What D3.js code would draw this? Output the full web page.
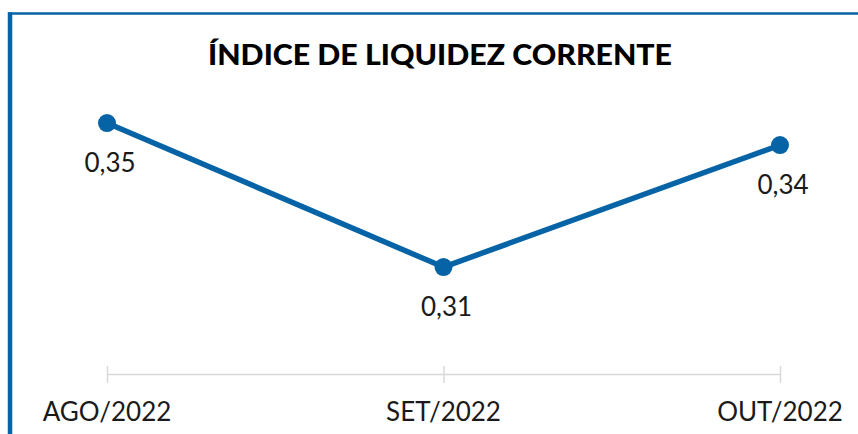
<!DOCTYPE html>
<html>
<head>
<meta charset="utf-8">
<script src="https://cdn.jsdelivr.net/npm/d3@7"></script>
<style>
  html, body { margin: 0; padding: 0; background: #ffffff; }
  svg { display: block; }
</style>
</head>
<body>
<svg id="chart" width="858" height="434"></svg>
<script>
const title = "ÍNDICE DE LIQUIDEZ CORRENTE";
const categories = ["AGO/2022", "SET/2022", "OUT/2022"];
const values = [0.3497, 0.3097, 0.3436];
const yDomain = [0.28, 0.36];

const W = 858, H = 434;
const blue = "#0664a6";
const svg = d3.select("#chart");

svg.append("rect").attr("width", W).attr("height", H).attr("fill", "#fff");

// frame (top and left borders)
svg.append("line").attr("x1", 8).attr("x2", W).attr("y1", 13.5).attr("y2", 13.5)
  .attr("stroke", blue).attr("stroke-width", 2.5);
svg.append("line").attr("x1", 10).attr("x2", 10).attr("y1", 12.3).attr("y2", H)
  .attr("stroke", blue).attr("stroke-width", 4.5);

const x = d3.scalePoint().domain(categories).range([107, 780]);
const y = d3.scaleLinear().domain(yDomain).range([374, 86]);

// title
svg.append("text")
  .attr("x", 440).attr("y", 65)
  .attr("text-anchor", "middle")
  .attr("font-family", "Lato, 'Open Sans', sans-serif")
  .attr("font-weight", 900)
  .attr("font-size", 29)
  .attr("fill", "#000")
  .attr("textLength", 464)
  .attr("lengthAdjust", "spacingAndGlyphs")
  .text(title);

// x axis
const axis = d3.axisBottom(x).tickSizeInner(9).tickSizeOuter(0).tickFormat("");
const gAxis = svg.append("g").attr("transform", `translate(0,${y(yDomain[0])})`).call(axis);
gAxis.select(".domain").attr("stroke", "#d9d9d9").attr("stroke-width", 1.5);
gAxis.selectAll(".tick line").attr("stroke", "#d9d9d9").attr("stroke-width", 1.5).attr("y1", -8).attr("y2", 9);
gAxis.selectAll(".tick text").remove();

// category labels
svg.append("g").selectAll("text").data(categories).join("text")
  .attr("x", d => x(d)).attr("y", 421)
  .attr("text-anchor", "middle")
  .attr("font-family", "Lato, 'Open Sans', sans-serif")
  .attr("font-size", 26)
  .attr("fill", "#1a1a1a")
  .text(d => d);

// line
const data = categories.map((c, i) => ({ c, v: values[i] }));
svg.append("path").datum(data)
  .attr("fill", "none")
  .attr("stroke", blue)
  .attr("stroke-width", 5.5)
  .attr("stroke-linejoin", "round")
  .attr("d", d3.line().x(d => x(d.c)).y(d => y(d.v)));

svg.append("g").selectAll("circle").data(data).join("circle")
  .attr("cx", d => x(d.c)).attr("cy", d => y(d.v)).attr("r", 9)
  .attr("fill", blue);

// data labels
const fmt = d3.format(".2f");
svg.append("g").selectAll("text").data(data).join("text")
  .attr("x", d => x(d.c) + 3).attr("y", d => y(d.v) + 49)
  .attr("text-anchor", "middle")
  .attr("font-family", "Lato, 'Open Sans', sans-serif")
  .attr("font-size", 26)
  .attr("fill", "#1a1a1a")
  .text(d => fmt(d.v).replace(".", ","));
</script>
</body>
</html>
